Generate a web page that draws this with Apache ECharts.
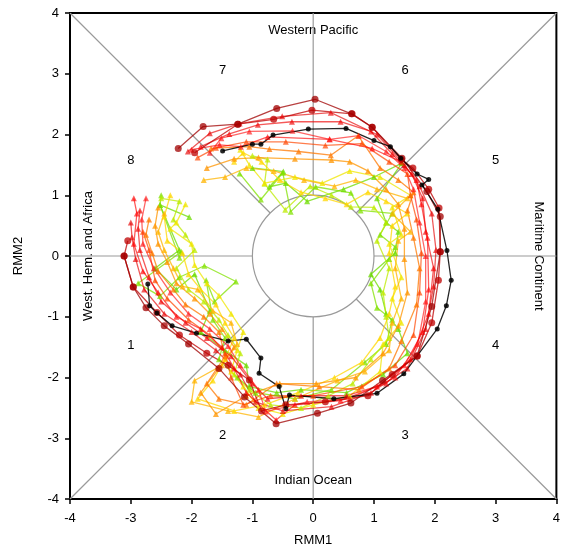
<!DOCTYPE html>
<html>
<head>
<meta charset="utf-8">
<script src="https://cdn.jsdelivr.net/npm/echarts@6/dist/echarts.min.js"></script>
<style>
html,body{margin:0;padding:0;background:#fff;}
#chart{width:563px;height:552px;}
</style>
</head>
<body>
<div id="chart"></div>
<script>
// RMM phase-space trajectories (RMM1, RMM2)
const axisTicks = [-4, -3, -2, -1, 0, 1, 2, 3, 4];

const observed = [[-2.72,-0.46],[-2.69,-0.82],[-2.57,-0.94],[-2.32,-1.15],[-1.92,-1.27],[-1.40,-1.40],[-1.10,-1.37],[-0.86,-1.68],[-0.89,-1.93],[-0.56,-2.15],[-0.45,-2.51],[-0.39,-2.29],[0.34,-2.35],[1.05,-2.26],[1.49,-1.94],[2.04,-1.20],[2.19,-0.82],[2.27,-0.40],[2.20,0.09],[2.05,0.77],[1.79,1.17],[1.90,1.26],[1.71,1.35],[1.44,1.61],[1.27,1.80],[1.00,1.90],[0.54,2.10],[-0.08,2.09],[-0.66,1.99],[-0.86,1.84],[-1.00,1.84],[-1.49,1.73]];

const darkRedA = [[-3.11,0.00],[-2.96,-0.51],[-2.75,-0.85],[-2.45,-1.15],[-2.05,-1.45],[-1.55,-1.85],[-1.13,-2.32],[-0.61,-2.76],[0.07,-2.59],[0.62,-2.42],[1.14,-2.05],[1.71,-1.64],[1.95,-0.83],[2.09,0.07],[2.09,0.65],[1.87,1.06],[1.46,1.61],[0.97,2.12],[0.63,2.34],[0.03,2.58],[-0.60,2.43],[-1.24,2.17],[-1.81,2.13],[-2.22,1.77]];
const darkRedB = [[-3.05,0.25],[-3.11,0.00],[-2.96,-0.51],[-2.57,-0.93],[-2.20,-1.30],[-1.75,-1.60],[-1.40,-1.80],[-1.05,-2.04],[-0.85,-2.55],[-0.45,-2.45],[0.20,-2.40],[0.90,-2.30],[1.30,-1.95],[1.71,-1.65],[1.95,-1.10],[2.06,-0.40],[2.09,0.07],[2.07,0.79],[1.90,1.10],[1.64,1.45],[1.45,1.59],[0.97,2.12],[0.64,2.34],[-0.02,2.40],[-0.65,2.25],[-1.24,2.17],[-1.95,1.70]];

const red1 = [[-3.00,0.55],[-2.98,0.31],[-2.92,-0.05],[-2.78,-0.55],[-2.45,-0.95],[-2.00,-1.25],[-1.60,-1.55],[-1.20,-1.95],[-0.95,-2.40],[-0.50,-2.55],[0.30,-2.48],[0.95,-2.25],[1.55,-1.85],[1.85,-1.20],[1.98,-0.50],[2.02,0.10],[1.95,0.70],[1.75,1.15],[1.50,1.50],[1.05,2.00],[0.29,2.36],[-0.51,2.30],[-1.21,2.18],[-1.70,2.02],[-2.06,1.72]];
const red2 = [[-2.85,0.75],[-2.88,0.45],[-2.85,0.10],[-2.70,-0.35],[-2.50,-0.75],[-2.10,-1.10],[-1.75,-1.35],[-1.35,-1.65],[-1.00,-2.10],[-0.75,-2.35],[-0.20,-2.30],[0.55,-2.30],[1.20,-2.10],[1.60,-1.70],[1.90,-0.95],[1.98,-0.20],[1.85,0.40],[1.80,0.95],[1.62,1.35],[1.30,1.68],[0.95,2.05],[0.45,2.21],[-0.35,2.21],[-0.91,2.16],[-1.38,2.01],[-1.85,1.80]];
const red3 = [[-2.75,0.95],[-2.82,0.60],[-2.80,0.20],[-2.62,-0.20],[-2.35,-0.60],[-2.05,-0.95],[-1.70,-1.20],[-1.40,-1.48],[-1.20,-1.80],[-0.90,-2.20],[-0.78,-2.56],[-0.10,-2.40],[0.60,-2.35],[1.35,-2.00],[1.72,-1.45],[1.85,-0.75],[1.85,0.00],[1.75,0.55],[1.65,1.10],[1.50,1.45],[1.20,1.72],[0.75,1.98],[0.27,1.92],[-0.34,2.06],[-1.05,2.05],[-1.51,1.94],[-1.70,1.70]];
const red4 = [[-2.95,0.95],[-2.90,0.70],[-2.95,0.20],[-2.80,-0.25],[-2.55,-0.60],[-2.25,-1.00],[-1.85,-1.20],[-1.50,-1.50],[-1.30,-1.85],[-1.10,-2.25],[-0.61,-2.70],[-0.30,-2.45],[0.45,-2.38],[1.05,-2.15],[1.50,-1.80],[1.80,-1.25],[1.90,-0.55],[1.88,0.30],[1.78,0.85],[1.70,1.25],[1.45,1.55],[0.97,1.77],[0.27,1.92],[-0.75,1.96],[-1.19,1.80],[-1.54,1.83],[-2.00,1.75]];
const redOrange = [[-2.80,0.40],[-2.70,0.10],[-2.60,-0.40],[-2.40,-0.70],[-2.05,-1.05],[-1.70,-1.30],[-1.45,-1.60],[-1.35,-2.00],[-1.15,-2.45],[-0.70,-2.30],[0.00,-2.30],[0.80,-2.15],[1.35,-1.80],[1.65,-1.30],[1.75,-0.60],[1.78,0.05],[1.70,0.60],[1.60,1.00],[1.55,1.35],[1.25,1.55],[0.80,1.85],[0.20,1.82],[-0.45,1.88],[-1.10,1.88],[-1.60,1.78],[-1.90,1.62]];

const orange1 = [[-2.70,0.60],[-2.75,0.35],[-2.65,0.05],[-2.55,-0.25],[-2.30,-0.55],[-2.10,-0.80],[-1.80,-1.00],[-1.55,-1.25],[-1.45,-1.65],[-1.75,-2.10],[-1.55,-2.35],[-1.10,-2.45],[-0.60,-2.10],[0.10,-2.15],[0.75,-2.20],[1.25,-1.85],[1.45,-1.40],[1.70,-0.80],[1.75,-0.20],[1.65,0.30],[1.55,0.75],[1.65,1.05],[1.40,1.25],[1.10,1.45],[0.74,1.98],[0.29,1.66],[-0.24,1.72],[-0.72,1.76],[-1.05,1.80],[-1.68,1.77]];
const orange2 = [[-2.55,0.80],[-2.60,0.50],[-2.55,0.20],[-2.40,-0.10],[-2.25,-0.45],[-1.95,-0.70],[-1.70,-0.95],[-1.50,-1.20],[-1.30,-1.50],[-1.55,-1.85],[-1.85,-2.25],[-1.60,-2.60],[-1.10,-2.30],[-0.55,-2.10],[0.05,-2.10],[0.70,-2.00],[1.15,-1.60],[1.40,-1.15],[1.55,-0.60],[1.50,-0.05],[1.50,0.45],[1.40,0.85],[1.20,1.10],[0.90,1.40],[0.60,1.55],[0.30,1.58],[-0.30,1.60],[-0.90,1.62],[-1.30,1.60],[-1.75,1.45]];

const amber1 = [[-2.45,0.70],[-2.55,0.40],[-2.45,0.10],[-2.30,-0.20],[-2.15,-0.50],[-1.90,-0.55],[-1.65,-0.90],[-1.35,-1.10],[-1.25,-1.45],[-1.50,-1.80],[-1.95,-2.05],[-2.00,-2.40],[-1.40,-2.55],[-0.90,-2.65],[-0.30,-2.35],[0.40,-2.05],[0.85,-1.90],[1.25,-1.55],[1.30,-1.10],[1.45,-0.70],[1.35,-0.20],[1.40,0.25],[1.60,0.40],[1.30,0.70],[1.55,0.95],[1.05,1.10],[0.70,1.25],[0.35,1.15],[-0.15,1.25],[-0.65,1.40],[-1.10,1.45],[-1.45,1.30],[-1.80,1.25]];

const yellow1 = [[-2.35,1.00],[-2.45,0.65],[-2.40,0.25],[-2.15,0.05],[-2.05,-0.30],[-1.85,-0.55],[-1.60,-0.80],[-1.45,-1.10],[-1.30,-1.35],[-1.45,-1.70],[-1.65,-2.05],[-1.90,-2.35],[-1.30,-2.55],[-0.80,-2.45],[-0.25,-2.25],[0.35,-2.00],[0.80,-1.75],[1.10,-1.35],[1.25,-0.95],[1.35,-0.50],[1.25,0.05],[1.30,0.50],[1.55,0.70],[1.20,0.90],[0.90,1.05],[0.55,0.85],[0.20,0.95],[-0.20,1.05],[-0.55,1.25],[-0.85,1.55],[-1.15,1.70],[-1.30,1.55]];
const yellow2 = [[-2.10,0.85],[-2.25,0.55],[-2.35,0.45],[-2.00,0.20],[-1.95,-0.15],[-1.75,-0.45],[-1.55,-0.65],[-1.35,-0.95],[-1.15,-1.25],[-1.25,-1.55],[-1.35,-1.90],[-1.15,-2.15],[-0.90,-2.50],[-0.50,-2.60],[0.00,-2.45],[0.60,-2.30],[1.10,-1.90],[1.15,-1.45],[1.45,-1.10],[1.30,-0.70],[1.45,-0.35],[1.25,0.20],[1.45,0.35],[1.30,0.80],[1.60,1.00],[1.10,1.30],[0.60,1.40],[0.15,1.20],[-0.30,1.30],[-0.80,1.20],[-1.05,1.50],[-1.20,1.75]];

const lime1 = [[-2.50,0.95],[-2.20,0.90],[-2.30,0.60],[-2.10,0.35],[-1.95,0.10],[-2.25,-0.20],[-2.05,-0.55],[-1.80,-0.75],[-1.55,-1.05],[-1.40,-1.30],[-1.20,-1.60],[-1.30,-1.95],[-1.05,-2.20],[-0.70,-2.45],[-0.20,-2.50],[0.25,-2.30],[0.65,-2.10],[0.95,-1.70],[1.25,-1.35],[1.20,-1.00],[1.15,-0.60],[1.25,-0.20],[1.05,0.25],[1.20,0.55],[1.00,0.80],[0.62,0.81],[0.30,1.00],[-0.05,1.15],[-0.46,0.76],[-0.80,1.19],[-0.75,1.59],[-1.00,1.65]];

const green1 = [[-2.50,1.00],[-2.52,0.84],[-2.20,-0.03],[-2.17,0.07],[-2.88,-0.45],[-2.52,-0.66],[-2.20,-0.35],[-1.79,-0.16],[-1.27,-0.42],[-1.62,-0.75],[-1.76,-0.40],[-1.65,-1.05],[-1.45,-1.35],[-1.55,-1.70],[-1.25,-2.00],[-0.95,-2.25],[-0.30,-2.35],[0.30,-2.20],[0.85,-1.75],[1.20,-1.45],[1.30,-1.05],[1.05,-0.85],[0.95,-0.45],[1.25,-0.05],[1.35,0.15],[1.10,0.35],[1.30,0.70],[0.78,0.75],[0.62,1.04],[0.04,1.14],[-0.37,0.73],[-0.50,1.37],[-0.86,0.93],[-1.21,1.36]];
const green2 = [[-2.04,0.64],[-2.52,0.84],[-2.20,0.10],[-2.60,-0.20],[-2.25,-0.55],[-1.95,-0.30],[-1.70,-0.90],[-1.85,-1.25],[-1.45,-1.55],[-1.10,-1.80],[-1.05,-2.15],[-0.60,-2.25],[-0.20,-2.20],[0.55,-2.25],[1.15,-1.95],[1.55,-1.60],[1.40,-1.20],[1.20,-0.95],[1.10,-0.55],[0.95,-0.30],[1.35,0.05],[1.40,0.40],[1.20,0.55],[1.05,0.95],[1.46,1.53],[1.00,1.30],[0.50,1.10],[-0.10,0.90],[-0.45,1.20],[-0.72,1.14],[-0.49,1.39],[-1.00,1.45]];

// Phase numbers and region names, in data coordinates
const phaseLabels = [['1',-3.0,-1.47],['2',-1.49,-2.95],['3',1.51,-2.95],['4',3.0,-1.47],['5',3.0,1.58],['6',1.51,3.06],['7',-1.49,3.06],['8',-3.0,1.58]];
const regionLabels = [['Western Pacific',0,3.72,0],['Indian Ocean',0,-3.70,0],['West. Hem. and Africa',-3.70,0,90],['Maritime Continent',3.70,0,-90]];

// Draw order: lighter members first, observed track on top
const members = [
  {data: green2, color: 'rgba(110,220,0,0.75)', symbol: 'triangle', size: 6},
  {data: green1, color: 'rgba(130,225,0,0.75)', symbol: 'triangle', size: 6},
  {data: lime1, color: 'rgba(190,235,0,0.75)', symbol: 'triangle', size: 6},
  {data: yellow2, color: 'rgba(240,230,0,0.75)', symbol: 'triangle', size: 6},
  {data: yellow1, color: 'rgba(255,215,0,0.75)', symbol: 'triangle', size: 6},
  {data: amber1, color: 'rgba(255,180,0,0.75)', symbol: 'triangle', size: 6},
  {data: orange2, color: 'rgba(255,150,0,0.75)', symbol: 'triangle', size: 6},
  {data: orange1, color: 'rgba(255,120,0,0.75)', symbol: 'triangle', size: 6},
  {data: redOrange, color: 'rgba(255,70,0,0.7)', symbol: 'triangle', size: 6},
  {data: red4, color: 'rgba(255,0,0,0.65)', symbol: 'triangle', size: 6},
  {data: red3, color: 'rgba(255,20,20,0.65)', symbol: 'triangle', size: 6},
  {data: red2, color: 'rgba(240,0,0,0.65)', symbol: 'triangle', size: 6},
  {data: red1, color: 'rgba(230,0,0,0.65)', symbol: 'triangle', size: 6},
  {data: darkRedB, color: 'rgba(190,0,0,0.75)', symbol: 'circle', size: 7},
  {data: darkRedA, color: 'rgba(160,0,0,0.75)', symbol: 'circle', size: 7},
  {data: observed, color: 'rgba(0,0,0,0.85)', symbol: 'circle', size: 5}
];

// Phase-space guide lines: axes outside the unit circle and the octant diagonals
const r = Math.SQRT1_2;
const guideSegments = [
  [[-4,0],[-1,0]], [[1,0],[4,0]], [[0,1],[0,4]], [[0,-1],[0,-4]],
  [[-4,4],[-r,r]], [[4,4],[r,r]], [[-4,-4],[-r,-r]], [[4,-4],[r,-r]]
];

const FONT = '"Liberation Sans", Arial, Helvetica, sans-serif';
const chart = echarts.init(document.getElementById('chart'), null, {renderer: 'canvas'});

const series = [];
guideSegments.forEach(seg => series.push({
  type: 'line', data: seg, silent: true, symbol: 'none', z: 1,
  lineStyle: {color: '#9a9a9a', width: 1.2}, animation: false
}));
members.forEach(m => series.push({
  type: 'line', data: m.data, symbol: m.symbol, symbolSize: m.size, z: 3,
  lineStyle: {color: m.color, width: 1.3}, itemStyle: {color: m.color},
  animation: false
}));

const axisCommon = {
  type: 'value', min: axisTicks[0], max: axisTicks[axisTicks.length - 1], interval: 1,
  nameLocation: 'middle',
  nameTextStyle: {fontFamily: FONT, fontSize: 13, color: '#000'},
  axisLine: {show: true, onZero: false, lineStyle: {color: '#000', width: 2}},
  axisTick: {show: true, length: 5, lineStyle: {color: '#000', width: 1.5}},
  splitLine: {show: false}
};

chart.setOption({
  animation: false,
  grid: {left: 70, right: 5, top: 13, bottom: 53, show: true, borderColor: '#000', borderWidth: 2, backgroundColor: '#fff'},
  xAxis: Object.assign({}, axisCommon, {
    name: 'RMM1', nameGap: 35,
    axisLabel: {fontFamily: FONT, fontSize: 13, color: '#000', margin: 13}
  }),
  yAxis: Object.assign({}, axisCommon, {
    name: 'RMM2', nameGap: 45,
    axisLabel: {fontFamily: FONT, fontSize: 13, color: '#000', margin: 11}
  }),
  series: series
});

// Unit circle and text annotations placed through the axis scales
const c0 = chart.convertToPixel({gridIndex: 0}, [0, 0]);
const c1 = chart.convertToPixel({gridIndex: 0}, [1, 0]);
const graphics = [{
  type: 'circle', z: 2, silent: true,
  shape: {cx: c0[0], cy: c0[1], r: c1[0] - c0[0]},
  style: {fill: 'none', stroke: '#9a9a9a', lineWidth: 1.2}
}];
phaseLabels.forEach(p => {
  const px = chart.convertToPixel({gridIndex: 0}, [p[1], p[2]]);
  graphics.push({type: 'text', x: px[0], y: px[1], silent: true,
    style: {text: p[0], fontFamily: FONT, fontSize: 13, fill: '#000', align: 'center', verticalAlign: 'middle'}});
});
regionLabels.forEach(p => {
  const px = chart.convertToPixel({gridIndex: 0}, [p[1], p[2]]);
  graphics.push({type: 'text', x: px[0], y: px[1], rotation: p[3] * Math.PI / 180, silent: true,
    style: {text: p[0], fontFamily: FONT, fontSize: 13, fill: '#000', align: 'center', verticalAlign: 'middle'}});
});
chart.setOption({graphic: graphics});
</script>
</body>
</html>
